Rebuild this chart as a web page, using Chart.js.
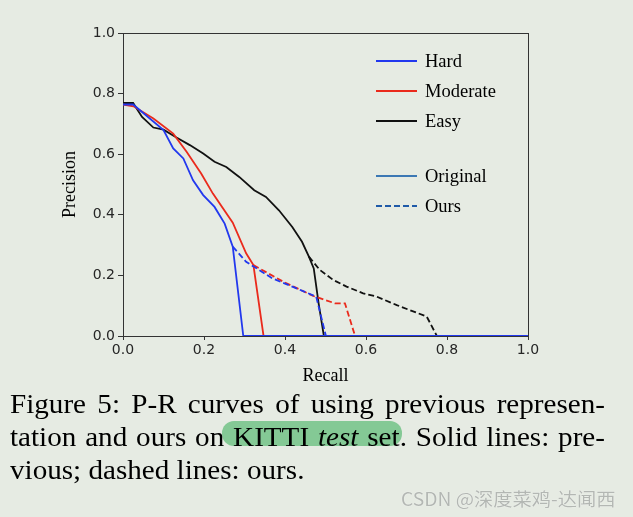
<!DOCTYPE html>
<html>
<head>
<meta charset="utf-8">
<script src="https://cdn.jsdelivr.net/npm/chart.js@4"></script>
<style>
  html, body { margin: 0; padding: 0; }
  body { width: 633px; height: 517px; background: #e6ebe3; position: relative; overflow: hidden; }
  #wrap { position: absolute; left: 0; top: 0; width: 633px; height: 390px; }
  #caption {
    position: absolute; left: 10px; top: 387px;
    font-family: "Liberation Serif", "Times New Roman", serif;
    font-size: 28px; line-height: 33px; color: #000;
    transform: scaleX(1.04); transform-origin: 0 0;
  }
  #caption div { white-space: nowrap; }
  #caption span { white-space: nowrap; }
  #hl {
    position: absolute; left: 222px; top: 421px; width: 180px; height: 25px;
    background: #84c995; border-radius: 12px;
  }
  #mark {
    position: absolute; left: 401px; top: 485px;
    font-family: "Noto Sans CJK SC", "Noto Sans", sans-serif;
    font-size: 18px; color: #b3b7b3;
    text-shadow: 0 0 1px #fff;
    transform: scaleX(1.07); transform-origin: 0 0; white-space: nowrap;
  }
</style>
</head>
<body>
<div id="hl"></div>
<div id="wrap"><canvas id="chart" width="633" height="390"></canvas></div>
<div id="caption">
  <div><span class="just">Figure 5: P-R curves of using previous represen-</span></div>
  <div><span class="just">tation and ours on KITTI <i>test</i> set. Solid lines: pre-</span></div>
  <div><span>vious; dashed lines: ours.</span></div>
</div>
<div id="mark">CSDN @深度菜鸡-达闻西</div>

<script>
// ---- DATA ----
const hardRecall     = [0, 0.025, 0.1, 0.124, 0.149, 0.173, 0.198, 0.226, 0.251, 0.271, 0.297, 1.0];
const hardPrec       = [0.764, 0.764, 0.68, 0.619, 0.586, 0.514, 0.465, 0.426, 0.371, 0.295, 0, 0];
const hardOursRecall = [0.271, 0.304, 0.369, 0.418, 0.477, 0.501, 1.0];
const hardOursPrec   = [0.295, 0.245, 0.19, 0.163, 0.13, 0, 0];

const modRecall      = [0, 0.026, 0.075, 0.124, 0.157, 0.193, 0.222, 0.271, 0.304, 0.322, 0.347, 1.0];
const modPrec        = [0.764, 0.758, 0.718, 0.668, 0.608, 0.536, 0.47, 0.374, 0.273, 0.234, 0, 0];
const modOursRecall  = [0.322, 0.396, 0.47, 0.523, 0.548, 0.573, 1.0];
const modOursPrec    = [0.234, 0.179, 0.132, 0.108, 0.108, 0, 0];

const easyRecall     = [0, 0.025, 0.047, 0.075, 0.1, 0.132, 0.165, 0.198, 0.226, 0.255, 0.287, 0.324, 0.353, 0.385, 0.418, 0.442, 0.459, 0.471, 0.483, 0.496, 1.0];
const easyPrec       = [0.769, 0.769, 0.723, 0.688, 0.681, 0.655, 0.63, 0.602, 0.575, 0.558, 0.525, 0.481, 0.459, 0.415, 0.36, 0.311, 0.262, 0.223, 0.108, 0, 0];
const easyOursRecall = [0.459, 0.486, 0.519, 0.552, 0.593, 0.626, 0.676, 0.75, 0.775, 1.0];
const easyOursPrec   = [0.262, 0.218, 0.185, 0.163, 0.141, 0.13, 0.102, 0.064, 0, 0];

const tickValues = [0, 0.2, 0.4, 0.6, 0.8, 1.0];
const legendLabels = ['Hard', 'Moderate', 'Easy', '', 'Original', 'Ours'];

// ---- CAPTION: stretch the first two lines to the column width ----
(function justifyCaption() {
  const scale = 1.04, target = 595 / scale;
  document.querySelectorAll('#caption .just').forEach(el => {
    const spaces = (el.textContent.match(/ /g) || []).length;
    const w = el.getBoundingClientRect().width / scale;
    if (spaces) el.style.wordSpacing = ((target - w) / spaces) + 'px';
  });
})();

// ---- STYLE ----
const BLUE = '#2238ee', RED = '#ea2a1c', BLACK = '#111111';
const DASH = [6, 3];
const SERIF = '"Liberation Serif", "Times New Roman", serif';

function pts(xs, ys) {
  return xs.map((x, i) => ({ x: x, y: ys[i] }));
}

function series(xs, ys, color, dashed) {
  return {
    data: pts(xs, ys),
    borderColor: color,
    borderWidth: 1.8,
    borderDash: dashed ? DASH : [],
    pointRadius: 0,
    tension: 0,
    fill: false,
    showLine: true
  };
}

// legend entries drawn by hand, matplotlib-like
const legendStyle = [
  { color: BLUE,      dash: [] },
  { color: RED,       dash: [] },
  { color: BLACK,     dash: [] },
  null,
  { color: '#3c78b4', dash: [] },
  { color: '#1f5aa8', dash: DASH }
];

const framePlugin = {
  id: 'frame',
  beforeDatasetsDraw(chart) {
    const { ctx, chartArea: a } = chart;
    ctx.save();
    ctx.strokeStyle = '#333';
    ctx.lineWidth = 1;
    ctx.strokeRect(a.left + 0.5, a.top + 0.5, a.right - a.left, a.bottom - a.top);
    ctx.restore();
  },
  afterDraw(chart) {
    const { ctx, chartArea: a } = chart;
    ctx.save();
    ctx.fillStyle = '#000';
    ctx.font = '18px ' + SERIF;
    ctx.textAlign = 'center';
    ctx.textBaseline = 'middle';
    ctx.fillText('Recall', (a.left + a.right) / 2, 376);
    ctx.translate(70, (a.top + a.bottom) / 2);
    ctx.rotate(-Math.PI / 2);
    ctx.fillText('Precision', 0, 0);
    ctx.restore();

    // legend
    const rowY = [61, 91, 121, 0, 176, 206];
    ctx.save();
    ctx.font = '18.5px ' + SERIF;
    ctx.textBaseline = 'middle';
    ctx.textAlign = 'left';
    legendLabels.forEach((lab, i) => {
      const s = legendStyle[i];
      if (!s) return;
      ctx.strokeStyle = s.color;
      ctx.lineWidth = 1.8;
      ctx.setLineDash(s.dash);
      ctx.beginPath();
      ctx.moveTo(376, rowY[i]);
      ctx.lineTo(417, rowY[i]);
      ctx.stroke();
      ctx.setLineDash([]);
      ctx.fillStyle = '#000';
      ctx.fillText(lab, 425, rowY[i] + 1);
    });
    ctx.restore();
  }
};

const tickFont = { family: '"DejaVu Sans", sans-serif', size: 14 };

new Chart(document.getElementById('chart'), {
  type: 'scatter',
  data: {
    datasets: [
      series(hardRecall, hardPrec, BLUE, false),
      series(hardOursRecall, hardOursPrec, BLUE, true),
      series(modRecall, modPrec, RED, false),
      series(modOursRecall, modOursPrec, RED, true),
      series(easyRecall, easyPrec, BLACK, false),
      series(easyOursRecall, easyOursPrec, BLACK, true)
    ]
  },
  options: {
    responsive: false,
    animation: false,
    layout: { padding: { top: 33, right: 105, left: 0, bottom: 0 } },
    plugins: { legend: { display: false }, tooltip: { enabled: false } },
    scales: {
      x: {
        type: 'linear', min: 0, max: 1,
        afterBuildTicks: s => { s.ticks = tickValues.map(v => ({ value: v })); },
        afterFit: s => { s.height = 54; },
        ticks: { font: tickFont, color: '#262626', padding: 2, callback: v => v.toFixed(1) },
        grid: { drawOnChartArea: false, tickLength: 4, tickColor: '#333' },
        border: { color: '#222', width: 1 }
      },
      y: {
        type: 'linear', min: 0, max: 1,
        afterBuildTicks: s => { s.ticks = tickValues.map(v => ({ value: v })); },
        afterFit: s => { s.width = 123; },
        ticks: { font: tickFont, color: '#262626', padding: 3, callback: v => v.toFixed(1) },
        grid: { drawOnChartArea: false, tickLength: 5, tickColor: '#333' },
        border: { color: '#222', width: 1 }
      }
    }
  },
  plugins: [framePlugin]
});
</script>
</body>
</html>
